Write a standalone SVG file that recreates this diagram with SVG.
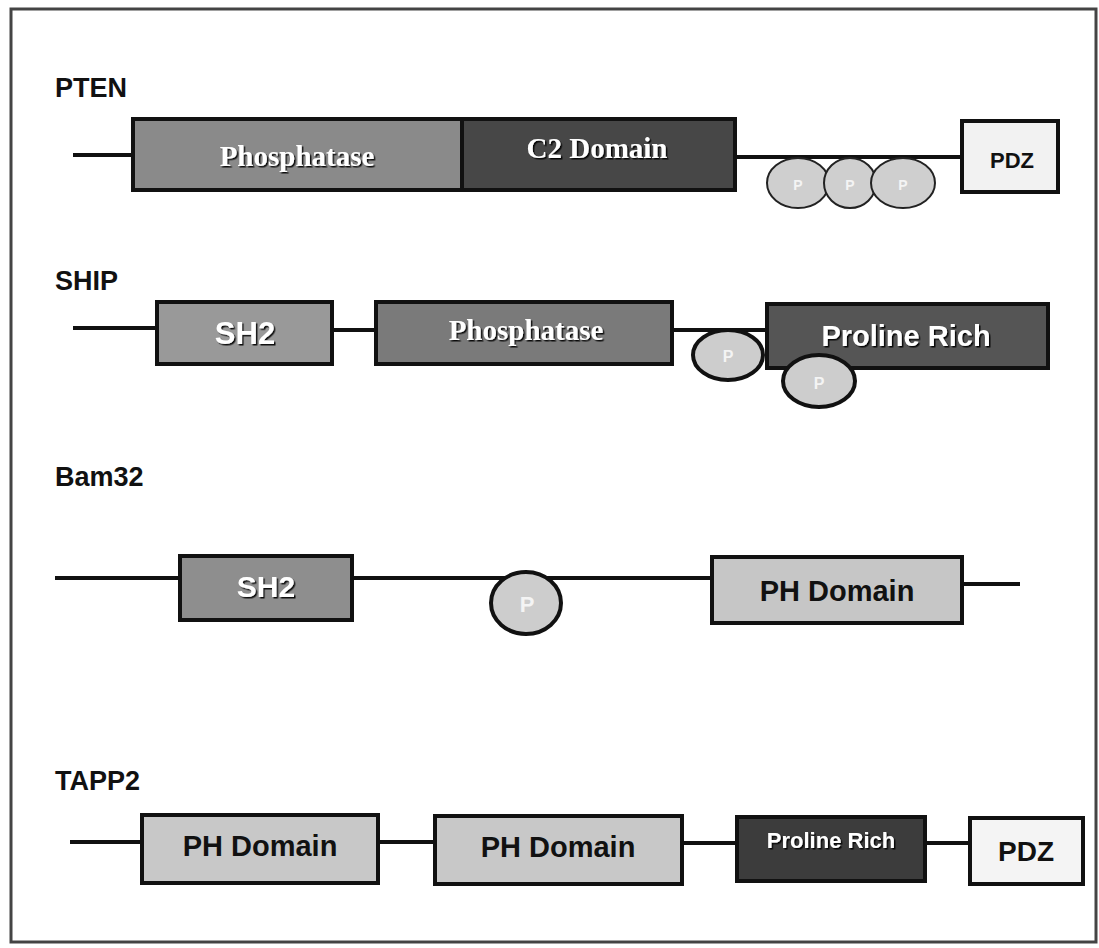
<svg xmlns="http://www.w3.org/2000/svg" width="1099" height="948" viewBox="0 0 1099 948">
<defs>
<filter id="sh" x="-10%" y="-20%" width="130%" height="150%">
<feDropShadow dx="1.5" dy="1.5" stdDeviation="0.6" flood-color="#000" flood-opacity="0.9"/>
</filter>
</defs>
<style>
.frame{fill:none;stroke:#444;stroke-width:3}
.ln{stroke:#111;stroke-width:4;fill:none}
.box{stroke:#111;stroke-width:4}
.lbl{font-family:"Liberation Sans",Arial,sans-serif;font-weight:bold;font-size:27px;fill:#111}
.serif{font-family:"Liberation Serif","Times New Roman",serif;font-weight:bold;font-size:29px;fill:#fff;text-anchor:middle;filter:url(#sh)}
.wsans{font-family:"Liberation Sans",Arial,sans-serif;font-weight:bold;fill:#fff;text-anchor:middle;filter:url(#sh)}
.bsans{font-family:"Liberation Sans",Arial,sans-serif;font-weight:bold;fill:#111;text-anchor:middle}
.p1{fill:#cfcfcf;stroke:#222;stroke-width:2}
.p2{fill:#cdcdcd;stroke:#111;stroke-width:4}
.pt{font-family:"Liberation Sans",Arial,sans-serif;font-weight:bold;fill:#f4f4f4;text-anchor:middle}
</style>
<rect class="frame" x="11" y="9" width="1085" height="933"/>

<g id="connectors">
<line class="ln" x1="73" y1="155" x2="133" y2="155"/>
<line class="ln" x1="735" y1="157" x2="962" y2="157"/>
<line class="ln" x1="73" y1="328" x2="157" y2="328"/>
<line class="ln" x1="332" y1="330" x2="376" y2="330"/>
<line class="ln" x1="672" y1="330" x2="767" y2="330"/>
<line class="ln" x1="55" y1="578" x2="180" y2="578"/>
<line class="ln" x1="352" y1="578" x2="712" y2="578"/>
<line class="ln" x1="962" y1="584" x2="1020" y2="584"/>
<line class="ln" x1="70" y1="842" x2="142" y2="842"/>
<line class="ln" x1="378" y1="842" x2="435" y2="842"/>
<line class="ln" x1="682" y1="843" x2="737" y2="843"/>
<line class="ln" x1="925" y1="843" x2="970" y2="843"/>
</g>

<g id="pten">
<text class="lbl" x="55" y="97">PTEN</text>
<g id="pten-phosphatase">
<rect class="box" x="133" y="119" width="329" height="71" fill="#8a8a8a"/>
<text class="serif" x="297" y="166">Phosphatase</text>
</g>
<g id="pten-c2">
<rect class="box" x="462" y="119" width="273" height="71" fill="#474747"/>
<text class="serif" x="597" y="158">C2 Domain</text>
</g>
<g id="pten-p1">
<ellipse class="p1" cx="798" cy="183" rx="31" ry="25"/>
<text class="pt" x="798" y="190" font-size="14">P</text>
</g>
<g id="pten-p2">
<ellipse class="p1" cx="850" cy="183" rx="26" ry="25"/>
<text class="pt" x="850" y="190" font-size="14">P</text>
</g>
<g id="pten-p3">
<ellipse class="p1" cx="903" cy="183" rx="32" ry="25"/>
<text class="pt" x="903" y="190" font-size="14">P</text>
</g>
<g id="pten-pdz">
<rect class="box" x="962" y="121" width="96" height="71" fill="#f2f2f2"/>
<text class="bsans" x="1012" y="168" font-size="22">PDZ</text>
</g>
</g>

<g id="ship">
<text class="lbl" x="55" y="290">SHIP</text>
<g id="ship-sh2">
<rect class="box" x="157" y="302" width="175" height="62" fill="#999"/>
<text class="wsans" x="245" y="344" font-size="31">SH2</text>
</g>
<g id="ship-phosphatase">
<rect class="box" x="376" y="302" width="296" height="62" fill="#7a7a7a"/>
<text class="serif" x="526" y="340">Phosphatase</text>
</g>
<g id="ship-p1">
<ellipse class="p2" cx="728" cy="355" rx="35" ry="25"/>
<text class="pt" x="728" y="362" font-size="16">P</text>
</g>
<g id="ship-proline">
<rect class="box" x="767" y="304" width="281" height="64" fill="#555"/>
<text class="wsans" x="906" y="346" font-size="29">Proline Rich</text>
</g>
<g id="ship-p2">
<ellipse class="p2" cx="819" cy="381" rx="36" ry="26"/>
<text class="pt" x="819" y="389" font-size="16">P</text>
</g>
</g>

<g id="bam32">
<text class="lbl" x="55" y="486">Bam32</text>
<g id="bam32-sh2">
<rect class="box" x="180" y="556" width="172" height="64" fill="#8e8e8e"/>
<text class="wsans" x="266" y="597" font-size="30">SH2</text>
</g>
<g id="bam32-p">
<ellipse class="p2" cx="526" cy="603" rx="35" ry="31"/>
<text class="pt" x="527" y="612" font-size="22">P</text>
</g>
<g id="bam32-ph">
<rect class="box" x="712" y="557" width="250" height="66" fill="#c6c6c6"/>
<text class="bsans" x="837" y="601" font-size="29">PH Domain</text>
</g>
</g>

<g id="tapp2">
<text class="lbl" x="55" y="790">TAPP2</text>
<g id="tapp2-ph1">
<rect class="box" x="142" y="815" width="236" height="68" fill="#c8c8c8"/>
<text class="bsans" x="260" y="856" font-size="29">PH Domain</text>
</g>
<g id="tapp2-ph2">
<rect class="box" x="435" y="816" width="247" height="68" fill="#c8c8c8"/>
<text class="bsans" x="558" y="857" font-size="29">PH Domain</text>
</g>
<g id="tapp2-proline">
<rect class="box" x="737" y="817" width="188" height="64" fill="#3c3c3c"/>
<text class="wsans" x="831" y="848" font-size="22">Proline Rich</text>
</g>
<g id="tapp2-pdz">
<rect class="box" x="970" y="818" width="113" height="66" fill="#f4f4f4"/>
<text class="bsans" x="1026" y="861" font-size="28">PDZ</text>
</g>
</g>
</svg>
